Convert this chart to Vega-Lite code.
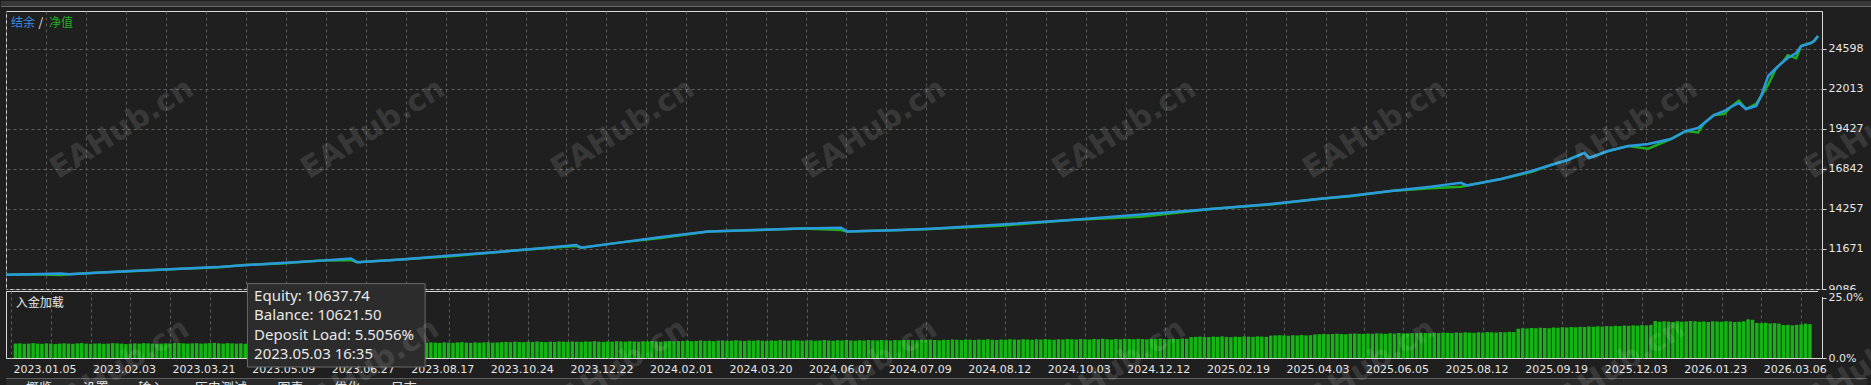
{
"$schema": "https://vega.github.io/schema/vega-lite/v6.json",
"background": "#1f1f1f",
"padding": 0,
"spacing": 2,
"bounds": "flush",
"config": {
  "view": {"stroke": "#d9d9d9", "strokeWidth": 1},
  "axis": {"gridColor": "#5c5c5c", "gridDash": [3, 3], "gridWidth": 1, "labelColor": "#e6e6e6", "labelFont": "DejaVu Sans", "labelFontSize": 11, "tickColor": "#d9d9d9", "domain": false, "labelOverlap": false, "labelFlush": false, "labelBound": false}
},
"datasets": {
  "lines": [
    {"t":0,"b":10000,"e":10000},{"t":5.6,"b":10040,"e":10040},{"t":12.4,"b":10090,"e":9990},{"t":14.2,"b":10040,"e":10040},{"t":21.4,"b":10150,"e":10150},
    {"t":30.4,"b":10280,"e":10260},{"t":39.4,"b":10400,"e":10400},{"t":47.3,"b":10500,"e":10480},{"t":53.6,"b":10621,"e":10637},{"t":61.9,"b":10760,"e":10740},
    {"t":70.9,"b":10920,"e":10920},{"t":77.6,"b":11050,"e":10950},{"t":79.0,"b":10820,"e":10820},{"t":88.9,"b":11000,"e":11000},{"t":100.1,"b":11250,"e":11200},
    {"t":111.4,"b":11500,"e":11500},{"t":120.4,"b":11720,"e":11700},{"t":128.3,"b":11930,"e":11860},{"t":129.4,"b":11760,"e":11760},{"t":138.4,"b":12100,"e":12100},
    {"t":147.4,"b":12450,"e":12380},{"t":158.0,"b":12800,"e":12800},{"t":169.9,"b":12920,"e":12900},{"t":178.9,"b":12990,"e":12990},{"t":187.9,"b":13050,"e":12900},
    {"t":189.2,"b":12800,"e":12800},{"t":201.4,"b":12900,"e":12900},{"t":208.1,"b":12980,"e":12960},{"t":223.9,"b":13250,"e":13180},{"t":239.6,"b":13550,"e":13550},
    {"t":255.4,"b":13900,"e":13750},{"t":271.1,"b":14250,"e":14250},{"t":284.6,"b":14580,"e":14540},{"t":295.2,"b":14903,"e":14903},{"t":302.6,"b":15120,"e":15080},
    {"t":311.6,"b":15420,"e":15420},{"t":320.6,"b":15700,"e":15600},{"t":327.4,"b":15950,"e":15700},{"t":328.7,"b":15780,"e":15780},{"t":336.4,"b":16200,"e":16200},
    {"t":343.1,"b":16700,"e":16650},{"t":347.6,"b":17100,"e":17100},{"t":351.5,"b":17440,"e":17440},{"t":355.1,"b":17876,"e":17876},{"t":356.2,"b":17553,"e":17553},
    {"t":360.5,"b":18005,"e":18005},{"t":365.0,"b":18328,"e":18328},{"t":369.5,"b":18458,"e":18150},{"t":374.6,"b":18781,"e":18781},{"t":378.0,"b":19298,"e":19298},
    {"t":380.7,"b":19492,"e":19200},{"t":382.1,"b":19815,"e":19815},{"t":384.3,"b":20332,"e":20332},{"t":386.6,"b":20591,"e":20400},{"t":388.1,"b":20849,"e":20849},
    {"t":389.9,"b":21108,"e":21250},{"t":391.5,"b":20720,"e":20720},{"t":393.8,"b":20914,"e":21050},{"t":394.9,"b":21560,"e":21560},{"t":396.5,"b":22853,"e":22300},
    {"t":398.3,"b":23370,"e":23370},{"t":399.8,"b":23758,"e":23758},{"t":400.9,"b":24016,"e":24200},{"t":402.8,"b":24339,"e":24000},{"t":403.9,"b":24792,"e":24792},
    {"t":406.1,"b":24986,"e":24986},{"t":406.8,"b":25115,"e":25115},{"t":407.7,"b":25438,"e":25438}
  ],
  "bars": [
    {"t":1,"l":6.0},{"t":2,"l":6.1},{"t":3,"l":5.9},{"t":4,"l":6.0},{"t":5,"l":6.2},{"t":6,"l":6.0},{"t":7,"l":5.9},{"t":8,"l":6.1},{"t":9,"l":6.0},{"t":10,"l":5.8},
    {"t":11,"l":6.0},{"t":12,"l":6.1},{"t":13,"l":6.0},{"t":14,"l":5.9},{"t":15,"l":6.1},{"t":16,"l":6.2},{"t":17,"l":6.0},{"t":18,"l":5.9},{"t":19,"l":6.0},{"t":20,"l":6.1},
    {"t":21,"l":5.9},{"t":22,"l":6.0},{"t":23,"l":6.2},{"t":24,"l":6.1},{"t":25,"l":6.0},{"t":26,"l":5.8},{"t":27,"l":6.0},{"t":28,"l":6.1},{"t":29,"l":6.0},{"t":30,"l":6.2},
    {"t":31,"l":6.1},{"t":32,"l":6.0},{"t":33,"l":5.9},{"t":34,"l":6.0},{"t":35,"l":6.1},{"t":36,"l":6.0},{"t":37,"l":6.2},{"t":38,"l":6.3},{"t":39,"l":6.1},{"t":40,"l":6.0},
    {"t":41,"l":6.1},{"t":42,"l":6.2},{"t":43,"l":6.0},{"t":44,"l":6.1},{"t":45,"l":6.2},{"t":46,"l":6.3},{"t":47,"l":6.1},{"t":48,"l":6.0},{"t":49,"l":6.2},{"t":50,"l":6.1},
    {"t":51,"l":6.0},{"t":52,"l":6.1},{"t":53,"l":5.9},{"t":54,"l":5.8},{"t":55,"l":5.9},
    {"t":56,"l":6.1},{"t":57,"l":6.2},{"t":58,"l":6.3},{"t":59,"l":6.2},{"t":60,"l":6.1},{"t":61,"l":6.3},{"t":62,"l":6.2},{"t":63,"l":6.4},{"t":64,"l":6.2},{"t":65,"l":6.1},
    {"t":66,"l":6.2},{"t":67,"l":6.3},{"t":68,"l":6.2},{"t":69,"l":6.4},{"t":70,"l":6.3},{"t":71,"l":6.2},{"t":72,"l":6.1},{"t":73,"l":6.3},{"t":74,"l":6.2},{"t":75,"l":6.4},
    {"t":76,"l":6.3},{"t":77,"l":6.2},{"t":78,"l":6.3},{"t":79,"l":6.5},{"t":80,"l":6.3},{"t":81,"l":6.2},{"t":82,"l":6.4},{"t":83,"l":6.3},{"t":84,"l":6.2},{"t":85,"l":6.3},
    {"t":86,"l":6.4},{"t":87,"l":6.2},{"t":88,"l":6.3},{"t":89,"l":6.4},{"t":90,"l":6.5},{"t":91,"l":6.3},{"t":92,"l":6.2},{"t":93,"l":6.4},{"t":94,"l":6.3},{"t":95,"l":6.5},
    {"t":96,"l":6.4},{"t":97,"l":6.3},{"t":98,"l":6.5},{"t":99,"l":6.4},{"t":100,"l":6.3},{"t":101,"l":6.5},{"t":102,"l":6.6},{"t":103,"l":6.4},{"t":104,"l":6.3},{"t":105,"l":6.5},
    {"t":106,"l":6.4},{"t":107,"l":6.5},{"t":108,"l":6.6},{"t":109,"l":6.4},{"t":110,"l":6.5},
    {"t":111,"l":6.6},{"t":112,"l":6.7},{"t":113,"l":6.6},{"t":114,"l":6.8},{"t":115,"l":6.7},{"t":116,"l":6.6},{"t":117,"l":6.8},{"t":118,"l":6.7},{"t":119,"l":6.9},{"t":120,"l":6.7},
    {"t":121,"l":6.6},{"t":122,"l":6.8},{"t":123,"l":6.7},{"t":124,"l":6.9},{"t":125,"l":6.8},{"t":126,"l":6.7},{"t":127,"l":6.9},{"t":128,"l":6.8},{"t":129,"l":6.7},{"t":130,"l":6.9},
    {"t":131,"l":6.8},{"t":132,"l":7.0},{"t":133,"l":6.8},{"t":134,"l":6.7},{"t":135,"l":6.9},{"t":136,"l":6.8},{"t":137,"l":7.0},{"t":138,"l":6.9},{"t":139,"l":6.8},{"t":140,"l":7.0},
    {"t":141,"l":6.9},{"t":142,"l":6.8},{"t":143,"l":7.0},{"t":144,"l":6.9},{"t":145,"l":7.1},{"t":146,"l":6.9},{"t":147,"l":6.8},{"t":148,"l":7.0},{"t":149,"l":7.1},{"t":150,"l":6.9},
    {"t":151,"l":7.0},{"t":152,"l":7.1},{"t":153,"l":7.2},{"t":154,"l":7.0},{"t":155,"l":7.1},{"t":156,"l":7.3},{"t":157,"l":7.1},{"t":158,"l":7.2},{"t":159,"l":7.0},{"t":160,"l":7.2},
    {"t":161,"l":7.3},{"t":162,"l":7.1},{"t":163,"l":7.2},{"t":164,"l":7.4},{"t":165,"l":7.2},{"t":166,"l":7.1},{"t":167,"l":7.3},{"t":168,"l":7.2},{"t":169,"l":7.4},{"t":170,"l":7.2},
    {"t":171,"l":7.1},{"t":172,"l":7.3},{"t":173,"l":7.2},{"t":174,"l":7.4},{"t":175,"l":7.3},{"t":176,"l":7.2},{"t":177,"l":7.4},{"t":178,"l":7.3},{"t":179,"l":7.2},{"t":180,"l":7.3},
    {"t":181,"l":7.4},{"t":182,"l":7.2},{"t":183,"l":7.3},{"t":184,"l":7.5},{"t":185,"l":7.3},{"t":186,"l":7.2},{"t":187,"l":7.4},{"t":188,"l":7.3},{"t":189,"l":7.5},{"t":190,"l":7.3},
    {"t":191,"l":7.2},{"t":192,"l":7.4},{"t":193,"l":7.3},{"t":194,"l":7.5},{"t":195,"l":7.4},{"t":196,"l":7.3},{"t":197,"l":7.5},{"t":198,"l":7.4},{"t":199,"l":7.3},{"t":200,"l":7.5},
    {"t":201,"l":7.4},{"t":202,"l":7.5},{"t":203,"l":7.6},{"t":204,"l":7.5},{"t":205,"l":7.4},{"t":206,"l":7.6},{"t":207,"l":7.5},{"t":208,"l":7.7},{"t":209,"l":7.5},{"t":210,"l":7.4},
    {"t":211,"l":7.6},{"t":212,"l":7.5},{"t":213,"l":7.7},{"t":214,"l":7.6},{"t":215,"l":7.5},{"t":216,"l":7.7},{"t":217,"l":7.6},{"t":218,"l":7.5},{"t":219,"l":7.7},{"t":220,"l":7.6},
    {"t":221,"l":7.8},{"t":222,"l":7.6},{"t":223,"l":7.5},{"t":224,"l":7.7},{"t":225,"l":7.6},{"t":226,"l":7.8},{"t":227,"l":7.7},{"t":228,"l":7.6},{"t":229,"l":7.8},{"t":230,"l":7.7},
    {"t":231,"l":7.6},{"t":232,"l":7.8},{"t":233,"l":7.7},{"t":234,"l":7.9},{"t":235,"l":7.7},{"t":236,"l":7.6},{"t":237,"l":7.8},{"t":238,"l":7.7},{"t":239,"l":7.9},{"t":240,"l":7.8},
    {"t":241,"l":7.7},{"t":242,"l":7.9},{"t":243,"l":7.8},{"t":244,"l":7.7},{"t":245,"l":7.9},{"t":246,"l":7.8},{"t":247,"l":8.0},{"t":248,"l":7.8},{"t":249,"l":7.7},{"t":250,"l":7.9},
    {"t":251,"l":7.8},{"t":252,"l":8.0},{"t":253,"l":7.9},{"t":254,"l":7.8},{"t":255,"l":8.0},{"t":256,"l":7.9},{"t":257,"l":7.8},{"t":258,"l":8.0},{"t":259,"l":7.9},{"t":260,"l":8.1},
    {"t":261,"l":7.9},{"t":262,"l":7.8},{"t":263,"l":8.0},{"t":264,"l":7.9},{"t":265,"l":8.1},{"t":266,"l":8.0},
    {"t":267,"l":8.7},{"t":268,"l":8.8},{"t":269,"l":8.9},{"t":270,"l":8.8},{"t":271,"l":8.7},{"t":272,"l":8.9},{"t":273,"l":8.8},{"t":274,"l":9.0},{"t":275,"l":8.8},{"t":276,"l":8.7},
    {"t":277,"l":8.9},{"t":278,"l":8.8},{"t":279,"l":9.0},{"t":280,"l":8.9},{"t":281,"l":8.8},{"t":282,"l":9.0},{"t":283,"l":8.9},{"t":284,"l":8.8},
    {"t":285,"l":9.3},{"t":286,"l":9.4},{"t":287,"l":9.5},{"t":288,"l":9.4},{"t":289,"l":9.3},{"t":290,"l":9.5},{"t":291,"l":9.4},{"t":292,"l":9.6},{"t":293,"l":9.4},{"t":294,"l":9.5},
    {"t":295,"l":9.8},{"t":296,"l":9.9},{"t":297,"l":10.0},{"t":298,"l":9.9},{"t":299,"l":10.0},{"t":300,"l":10.1},{"t":301,"l":10.0},{"t":302,"l":9.9},{"t":303,"l":10.1},{"t":304,"l":10.2},
    {"t":305,"l":10.1},{"t":306,"l":10.0},{"t":307,"l":10.2},{"t":308,"l":10.1},{"t":309,"l":10.3},{"t":310,"l":10.2},{"t":311,"l":10.1},{"t":312,"l":10.3},{"t":313,"l":10.2},{"t":314,"l":10.4},
    {"t":315,"l":10.3},{"t":316,"l":10.2},{"t":317,"l":10.4},{"t":318,"l":10.3},{"t":319,"l":10.5},{"t":320,"l":10.4},{"t":321,"l":10.3},{"t":322,"l":10.5},{"t":323,"l":10.4},{"t":324,"l":10.6},
    {"t":325,"l":10.5},{"t":326,"l":10.4},{"t":327,"l":10.6},{"t":328,"l":10.5},{"t":329,"l":10.7},{"t":330,"l":10.6},{"t":331,"l":10.5},{"t":332,"l":10.7},{"t":333,"l":10.6},{"t":334,"l":10.8},
    {"t":335,"l":10.7},{"t":336,"l":10.6},{"t":337,"l":10.8},{"t":338,"l":10.7},{"t":339,"l":10.9},{"t":340,"l":10.8},
    {"t":341,"l":12.2},{"t":342,"l":12.4},{"t":343,"l":12.3},{"t":344,"l":12.5},{"t":345,"l":12.4},{"t":346,"l":12.6},{"t":347,"l":12.5},{"t":348,"l":12.4},{"t":349,"l":12.7},{"t":350,"l":12.6},
    {"t":351,"l":12.8},{"t":352,"l":12.7},{"t":353,"l":12.9},{"t":354,"l":12.8},{"t":355,"l":13.0},{"t":356,"l":12.9},{"t":357,"l":13.1},{"t":358,"l":13.0},{"t":359,"l":13.2},{"t":360,"l":13.1},
    {"t":361,"l":13.3},{"t":362,"l":13.2},{"t":363,"l":13.4},{"t":364,"l":13.3},{"t":365,"l":13.5},
    {"t":366,"l":13.4},{"t":367,"l":13.6},{"t":368,"l":13.5},{"t":369,"l":13.7},{"t":370,"l":13.6},{"t":371,"l":13.8},{"t":372,"l":15.4},{"t":373,"l":15.1},{"t":374,"l":15.3},{"t":375,"l":15.2},
    {"t":376,"l":15.0},{"t":377,"l":15.3},{"t":378,"l":15.1},{"t":379,"l":15.2},{"t":380,"l":15.4},{"t":381,"l":15.3},{"t":382,"l":15.1},{"t":383,"l":15.2},{"t":384,"l":15.0},{"t":385,"l":15.3},
    {"t":386,"l":15.2},{"t":387,"l":15.1},{"t":388,"l":15.3},{"t":389,"l":15.2},{"t":390,"l":15.0},{"t":391,"l":15.1},{"t":392,"l":15.3},
    {"t":393,"l":16.1},{"t":394,"l":15.9},{"t":395,"l":14.6},{"t":396,"l":14.5},{"t":397,"l":14.7},{"t":398,"l":14.4},{"t":399,"l":14.5},{"t":400,"l":14.3},
    {"t":401,"l":13.7},{"t":402,"l":13.8},{"t":403,"l":13.6},{"t":404,"l":13.8},{"t":405,"l":14.0},{"t":406,"l":14.3},{"t":407,"l":14.1}
  ],
  "wm1": [{"t":26.1,"v":19427},{"t":82.6,"v":19427},{"t":138.8,"v":19427},{"t":195.3,"v":19427},{"t":251.6,"v":19427},{"t":308.0,"v":19427},{"t":364.5,"v":19427},{"t":420.8,"v":19427}],
  "wm2": [{"t":24.1,"v":-4.6},{"t":80.6,"v":-4.6},{"t":136.8,"v":-4.6},{"t":193.3,"v":-4.6},{"t":249.5,"v":-4.6},{"t":306.0,"v":-4.6},{"t":362.5,"v":-4.6},{"t":418.7,"v":-4.6}],
  "tabs": [{"t":3.4,"s":"概览"},{"t":16.2,"s":"设置"},{"t":28.8,"s":"输入"},{"t":41.6,"s":"历史测试"},{"t":60.3,"s":"图表"},{"t":73.1,"s":"优化"},{"t":85.9,"s":"日志"}]
},
"vconcat": [
  {
    "width": 1816,
    "height": 278,
    "layer": [
      {"data": {"name": "lines"}, "mark": {"type": "line", "color": "#2a9be0", "strokeWidth": 2.5, "clip": true, "opacity": 0},
       "encoding": {"x": {"field": "t", "type": "quantitative", "scale": {"domain": [0, 408.6], "nice": false, "zero": false},
                          "axis": {"values": [0,9,18,27,36,45,54,63,72,81,90,99,108,117,126,135,144,153,162,171,180,189,198,207,216,225,234,243,252,261,270,279,288,297,306,315,324,333,342,351,360,369,378,387,396,405], "grid": true, "labels": false, "ticks": false, "domain": false, "title": null}},
                    "y": {"field": "b", "type": "quantitative", "scale": {"domain": [9086, 27054], "nice": false, "zero": false},
                          "axis": {"orient": "right", "values": [9086, 11671.33, 14256.67, 16842, 19427.33, 22012.67, 24598], "format": ".0f", "grid": true, "ticks": true, "tickSize": 4, "labelPadding": 2, "domain": false, "title": null}}}},
      {"data": {"values": [{}]}, "mark": {"type": "rect", "color": "#383838"},
       "encoding": {"x": {"datum": -1.125, "type": "quantitative"}, "x2": {"datum": 419.9},
                    "y": {"datum": 27700.4, "type": "quantitative"}, "y2": {"datum": 27377}}},
      {"data": {"values": [{}]}, "mark": {"type": "rule", "color": "#6a6a6a", "strokeWidth": 1},
       "encoding": {"x": {"datum": -1.125, "type": "quantitative"}, "x2": {"datum": 419.9},
                    "y": {"datum": 27345, "type": "quantitative"}}},
      {"data": {"name": "lines"}, "mark": {"type": "line", "color": "#1fae1f", "strokeWidth": 2.5, "clip": true},
       "encoding": {"x": {"field": "t", "type": "quantitative"}, "y": {"field": "e", "type": "quantitative"}}},
      {"data": {"name": "lines"}, "mark": {"type": "line", "color": "#2a9be0", "strokeWidth": 2.5, "clip": true},
       "encoding": {"x": {"field": "t", "type": "quantitative"}, "y": {"field": "b", "type": "quantitative"}}},
      {"data": {"values": [{}]}, "mark": {"type": "text", "color": "#3a8ee0", "font": "Noto Sans CJK SC", "fontSize": 12, "align": "left", "baseline": "middle"},
       "encoding": {"x": {"datum": 1.1, "type": "quantitative"}, "y": {"datum": 26298, "type": "quantitative"}, "text": {"value": "结余"}}},
      {"data": {"values": [{}]}, "mark": {"type": "text", "color": "#e6e6e6", "font": "Noto Sans CJK SC", "fontSize": 12, "align": "left", "baseline": "middle"},
       "encoding": {"x": {"datum": 7.3, "type": "quantitative"}, "y": {"datum": 26298, "type": "quantitative"}, "text": {"value": "/"}}},
      {"data": {"values": [{}]}, "mark": {"type": "text", "color": "#22b022", "font": "Noto Sans CJK SC", "fontSize": 12, "align": "left", "baseline": "middle"},
       "encoding": {"x": {"datum": 9.7, "type": "quantitative"}, "y": {"datum": 26298, "type": "quantitative"}, "text": {"value": "净值"}}},
      {"data": {"name": "wm1"}, "mark": {"type": "text", "text": "EAHub.cn", "font": "DejaVu Sans", "fontWeight": "bold", "fontSize": 30, "angle": -32, "color": "#ffffff", "opacity": 0.11, "align": "center", "baseline": "middle"},
       "encoding": {"x": {"field": "t", "type": "quantitative"}, "y": {"field": "v", "type": "quantitative"}}}
    ]
  },
  {
    "width": 1816,
    "height": 67,
    "layer": [
      {"data": {"name": "bars"}, "mark": {"type": "bar", "color": "#14b414", "width": 3.5},
       "encoding": {"x": {"field": "t", "type": "quantitative", "scale": {"domain": [0, 408.6], "nice": false, "zero": false},
                          "axis": {"values": [0,9,18,27,36,45,54,63,72,81,90,99,108,117,126,135,144,153,162,171,180,189,198,207,216,225,234,243,252,261,270,279,288,297,306,315,324,333,342,351,360,369,378,387,396,405], "grid": true, "ticks": false, "domain": false, "title": null, "labelAlign": "left", "labelOffset": 2, "labelPadding": 5,
                                   "labelExpr": "datum.value % 18 == 0 ? ['2023.01.05','2023.02.03','2023.03.21','2023.05.09','2023.06.27','2023.08.17','2023.10.24','2023.12.22','2024.02.01','2024.03.20','2024.06.07','2024.07.09','2024.08.12','2024.10.03','2024.12.12','2025.02.19','2025.04.03','2025.06.05','2025.08.12','2025.09.19','2025.12.03','2026.01.23','2026.03.06'][datum.value / 18] : ''"}},
                    "y": {"field": "l", "type": "quantitative", "scale": {"domain": [0, 27.9], "nice": false, "zero": false},
                          "axis": {"orient": "right", "values": [0, 25], "labelExpr": "format(datum.value, '.1f') + '%'", "grid": false, "ticks": true, "tickSize": 4, "labelPadding": 2, "domain": false, "title": null, "zindex": 1}}}},
      {"data": {"values": [{}]}, "mark": {"type": "rect", "color": "#1f1f1f"},
       "encoding": {"x": {"datum": 408.85, "type": "quantitative"}, "x2": {"datum": 419.9},
                    "y": {"datum": 28.35, "type": "quantitative"}, "y2": {"datum": 25.4}}},
      {"data": {"values": [{}]}, "mark": {"type": "text", "color": "#e6e6e6", "font": "Noto Sans CJK SC", "fontSize": 12, "align": "left", "baseline": "middle"},
       "encoding": {"x": {"datum": 1.1, "type": "quantitative"}, "y": {"datum": 23.0, "type": "quantitative"}, "text": {"value": "入金加载"}}},
      {"data": {"values": [{}]}, "mark": {"type": "rect", "color": "#2c2c2c", "stroke": "#6a6a6a", "strokeWidth": 1},
       "encoding": {"x": {"datum": 53.5, "type": "quantitative"}, "x2": {"datum": 93.7},
                    "y": {"datum": 30.96, "type": "quantitative"}, "y2": {"datum": -3.75}}},
      {"data": {"values": [{}]}, "mark": {"type": "text", "color": "#e8e8e8", "font": "Noto Sans", "fontSize": 15, "align": "left", "baseline": "middle", "lineHeight": 19.4},
       "encoding": {"x": {"datum": 55.0, "type": "quantitative"}, "y": {"datum": 25.8, "type": "quantitative"},
                    "text": {"value": ["Equity: 10637.74", "Balance: 10621.50", "Deposit Load: 5.5056%", "2023.05.03 16:35"]}}},
      {"data": {"values": [{}]}, "mark": {"type": "rect", "color": "#2a2a2a"},
       "encoding": {"x": {"datum": -1.125, "type": "quantitative"}, "x2": {"datum": 419.9},
                    "y": {"datum": -8.4, "type": "quantitative"}, "y2": {"datum": -12}}},
      {"data": {"values": [{}]}, "mark": {"type": "rule", "color": "#5e5e5e", "strokeWidth": 1},
       "encoding": {"x": {"datum": -1.125, "type": "quantitative"}, "x2": {"datum": 419.9},
                    "y": {"datum": -8.55, "type": "quantitative"}}},
      {"data": {"name": "tabs"}, "mark": {"type": "text", "color": "#e0e0e0", "font": "Noto Sans CJK SC", "fontSize": 13, "align": "left", "baseline": "top"},
       "encoding": {"x": {"field": "t", "type": "quantitative"}, "y": {"datum": -10.0, "type": "quantitative"}, "text": {"field": "s"}}},
      {"data": {"name": "wm2"}, "mark": {"type": "text", "text": "EAHub.cn", "font": "DejaVu Sans", "fontWeight": "bold", "fontSize": 30, "angle": -32, "color": "#ffffff", "opacity": 0.11, "align": "center", "baseline": "middle"},
       "encoding": {"x": {"field": "t", "type": "quantitative"}, "y": {"field": "v", "type": "quantitative"}}}
    ]
  }
]
}
